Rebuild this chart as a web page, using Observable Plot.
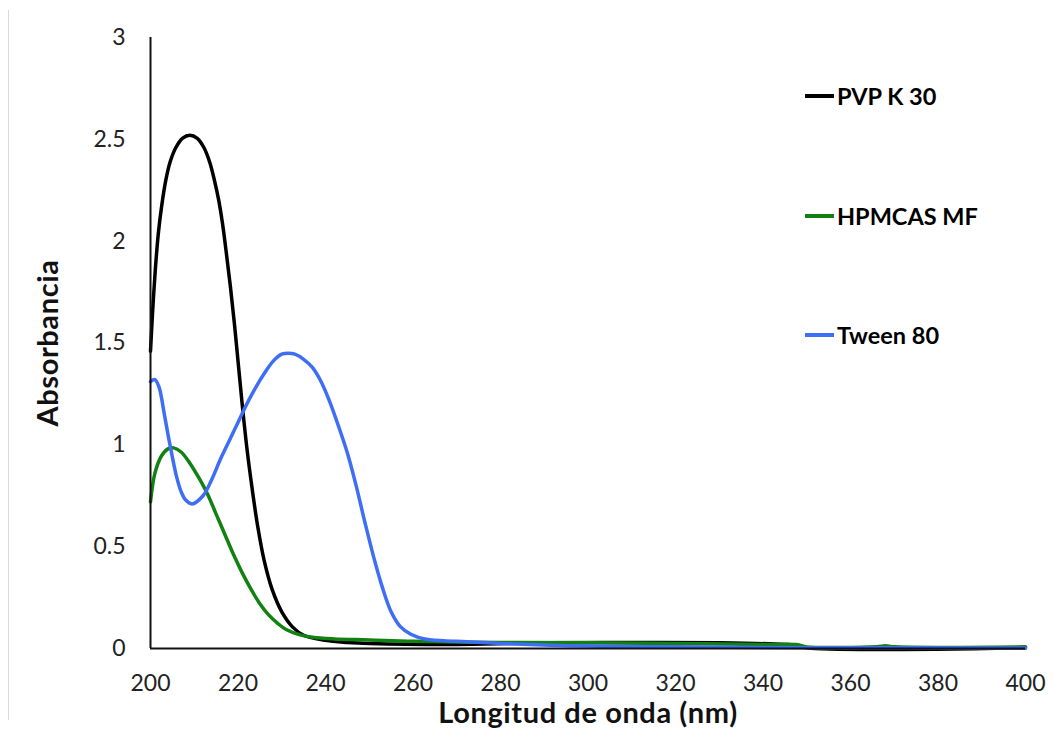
<!DOCTYPE html>
<html>
<head>
<meta charset="utf-8">
<script src="https://cdn.jsdelivr.net/npm/d3@7"></script>
<script src="https://cdn.jsdelivr.net/npm/@observablehq/plot@0.6"></script>
<style>
  html, body { margin: 0; padding: 0; background: #fff; }
  #wrap { position: relative; width: 1053px; height: 730px; font-family: Lato, "Open Sans", sans-serif; }
  #edge { position: absolute; left: 8px; top: 10px; width: 0; height: 710px; border-left: 1px solid #d9d9d9; }
  #legend { position: absolute; left: 805px; top: 0; }
  .item { position: absolute; left: 0; display: flex; align-items: center; white-space: nowrap; font-weight: 700; font-size: 23.5px; color: #000; }
  .item .sw { width: 29px; height: 3.5px; margin-right: 3px; }
  svg text { font-family: Lato, "Open Sans", sans-serif; }
  g[aria-label="x-axis tick label"] text, g[aria-label="y-axis tick label"] text { font-size: 23px; fill: #222; }
  g[aria-label="x-axis label"] text, g[aria-label="y-axis label"] text { font-size: 29px; font-weight: 700; fill: #111; letter-spacing: 0.6px; }
</style>
</head>
<body>
<div id="wrap"><div id="edge"></div><div id="chart"></div><div id="legend"></div></div>
<script>
const seriesNames = ["PVP K 30", "HPMCAS MF", "Tween 80"];
const seriesColors = ["#000000", "#118211", "#3d6ef5"];

const pvpNm = [200, 200.5, 201.1, 201.8, 202.6, 203.5, 204.5, 205.8, 207.3, 209, 210.7, 212.2, 213.5, 214.6, 215.6, 216.5, 217.4, 218.3, 219.2, 220.1, 221, 222, 223.2, 224.5, 226, 227.8, 230, 232.5, 235, 240, 245, 250, 270, 290, 310, 330, 345, 348, 350, 400];
const pvpAbs = [1.46, 1.66, 1.86, 2.04, 2.18, 2.3, 2.39, 2.46, 2.505, 2.52, 2.505, 2.46, 2.39, 2.3, 2.2, 2.08, 1.93, 1.77, 1.59, 1.39, 1.19, 0.99, 0.79, 0.6, 0.43, 0.29, 0.18, 0.105, 0.065, 0.04, 0.03, 0.025, 0.02, 0.028, 0.03, 0.028, 0.02, 0.015, 0.003, 0.003];

const hpmNm = [200, 201, 202.5, 204, 205.3, 207, 209, 211, 213, 215, 217, 219, 221, 223, 225, 227, 229, 231, 234, 237, 242, 250, 260, 280, 300, 320, 340, 348, 350, 366, 368, 370, 400];
const hpmAbs = [0.72, 0.86, 0.945, 0.98, 0.985, 0.965, 0.91, 0.84, 0.76, 0.66, 0.56, 0.46, 0.37, 0.29, 0.22, 0.165, 0.125, 0.093, 0.068, 0.055, 0.047, 0.042, 0.035, 0.03, 0.028, 0.025, 0.02, 0.018, 0.008, 0.009, 0.013, 0.008, 0.008];

const twNm = [200, 201, 202, 203, 204, 205, 206, 207, 208, 209.5, 212, 214, 216, 218, 220, 222, 224, 226, 228, 230, 231.5, 233, 235, 237, 239, 241, 243, 245, 247, 249, 251, 253, 255, 257, 259.5, 263, 270, 280, 300, 320, 350, 400];
const twAbs = [1.31, 1.32, 1.28, 1.17, 1.05, 0.94, 0.84, 0.77, 0.73, 0.71, 0.75, 0.83, 0.93, 1.02, 1.11, 1.2, 1.28, 1.35, 1.41, 1.445, 1.45, 1.445, 1.42, 1.38, 1.31, 1.21, 1.09, 0.96, 0.8, 0.62, 0.45, 0.3, 0.18, 0.11, 0.07, 0.045, 0.035, 0.025, 0.012, 0.008, 0.004, 0.003];

const xTicks = [200, 220, 240, 260, 280, 300, 320, 340, 360, 380, 400];
const yTicks = [0, 0.5, 1, 1.5, 2, 2.5, 3];

const rows = [];
[[pvpNm, pvpAbs], [hpmNm, hpmAbs], [twNm, twAbs]].forEach(([xs, ys], i) => {
  xs.forEach((x, j) => rows.push({ series: seriesNames[i], nm: x, abs: ys[j] }));
});

const chart = Plot.plot({
  width: 1053,
  height: 730,
  marginLeft: 150,
  marginRight: 28,
  marginTop: 37,
  marginBottom: 82,
  x: { domain: [200, 400] },
  y: { domain: [0, 3] },
  color: { domain: seriesNames, range: seriesColors },
  marks: [
    Plot.axisX({ ticks: xTicks, tickSize: 0, tickPadding: 26, tickFormat: d => String(d),
      label: "Longitud de onda (nm)", labelAnchor: "center", labelArrow: "none", labelOffset: 74 }),
    Plot.axisY({ ticks: yTicks, tickSize: 0, tickPadding: 25, tickFormat: d => String(d),
      label: "Absorbancia", labelAnchor: "center", labelArrow: "none", labelOffset: 113 }),
    Plot.line(rows, { x: "nm", y: "abs", z: "series", stroke: "series", strokeWidth: 3.5, curve: "catmull-rom" }),
    Plot.ruleX([200], { stroke: "#111", strokeWidth: 2 }),
    Plot.ruleY([0], { stroke: "#111", strokeWidth: 2 })
  ]
});
document.getElementById("chart").appendChild(chart);

const legendTops = [96, 216, 335];
const legend = document.getElementById("legend");
seriesNames.forEach((name, i) => {
  const item = document.createElement("div");
  item.className = "item";
  item.style.top = (legendTops[i] - 14) + "px";
  item.style.height = "28px";
  const sw = document.createElement("span");
  sw.className = "sw";
  sw.style.background = seriesColors[i];
  const lab = document.createElement("span");
  lab.textContent = name;
  item.appendChild(sw);
  item.appendChild(lab);
  legend.appendChild(item);
});
</script>
</body>
</html>
